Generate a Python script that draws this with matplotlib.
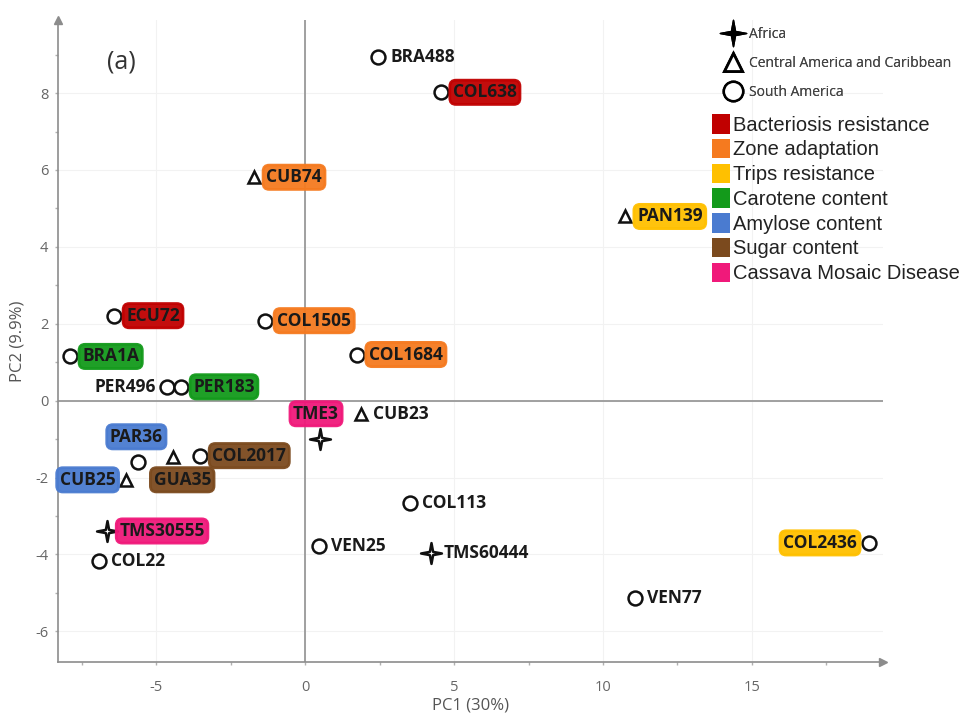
import numpy as np
import matplotlib.pyplot as plt
from matplotlib.path import Path
from matplotlib.lines import Line2D
from matplotlib.patches import Patch

plt.rcParams['axes.unicode_minus'] = False
plt.rcParams['font.family'] = ['Open Sans', 'DejaVu Sans']

# PCA scores
names = ['BRA488', 'COL638', 'CUB74', 'PAN139', 'ECU72', 'COL1505', 'COL1684',
         'BRA1A', 'PER496', 'PER183', 'TME3', 'CUB23', 'PAR36', 'GUA35',
         'COL2017', 'CUB25', 'TMS30555', 'COL22', 'VEN25', 'COL113',
         'TMS60444', 'VEN77', 'COL2436']
pc1 = [2.45, 4.56, -1.71, 10.74, -6.41, -1.34, 1.74, -7.89, -4.63, -4.16,
       0.50, 1.88, -5.60, -4.43, -3.52, -6.00, -6.64, -6.91, 0.47, 3.52,
       4.23, 11.07, 18.93]
pc2 = [8.93, 8.02, 5.81, 4.79, 2.21, 2.08, 1.20, 1.15, 0.36, 0.36,
       -0.99, -0.36, -1.59, -1.46, -1.43, -2.06, -3.39, -4.17, -3.78, -2.66,
       -3.96, -5.13, -3.70]
region = ['SA', 'SA', 'CA', 'CA', 'SA', 'SA', 'SA', 'SA', 'SA', 'SA',
          'AF', 'CA', 'SA', 'CA', 'SA', 'CA', 'AF', 'SA', 'SA', 'SA',
          'AF', 'SA', 'SA']
trait = [None, 'Bacteriosis resistance', 'Zone adaptation', 'Trips resistance',
         'Bacteriosis resistance', 'Zone adaptation', 'Zone adaptation',
         'Carotene content', None, 'Carotene content', 'Cassava Mosaic Disease',
         None, 'Amylose content', 'Sugar content', 'Sugar content',
         'Amylose content', 'Cassava Mosaic Disease', None, None, None, None,
         None, 'Trips resistance']

region_names = {'AF': 'Africa', 'CA': 'Central America and Caribbean',
                'SA': 'South America'}
trait_names = ['Bacteriosis resistance', 'Zone adaptation', 'Trips resistance',
               'Carotene content', 'Amylose content', 'Sugar content',
               'Cassava Mosaic Disease']
trait_colors = ['#C00000', '#F57A1F', '#FFC000', '#139A1B', '#4A7BD0',
                '#7B4A1E', '#F0197A']
color_of = dict(zip(trait_names, trait_colors))

# 4 pointed star marker
ang = np.arange(9) * np.pi / 4 + np.pi / 2
rad = np.where(np.arange(9) % 2 == 0, 1.0, 0.22)
star = Path(np.column_stack([rad * np.cos(ang), rad * np.sin(ang)]), closed=True)
markers = {'AF': star, 'CA': '^', 'SA': 'o'}
msize = {'AF': 15, 'CA': 9, 'SA': 10}

# where each label sits relative to its point (pixels)
place = {'PER496': (-11, 0, 'right'), 'CUB25': (-11, 0, 'right'),
         'COL2436': (-12, 0, 'right'), 'TME3': (-4, 25, 'center'),
         'PAR36': (-2, 25, 'center'), 'GUA35': (9, -23, 'center')}

fig = plt.figure(figsize=(9.74, 7.15), dpi=100)
ax = fig.add_axes([0.0595, 0.074, 0.847, 0.898])

ax.set_xlim(-8.3, 19.4)
ax.set_ylim(-6.8, 9.9)
ax.set_xticks([-5, 0, 5, 10, 15])
ax.set_yticks([-6, -4, -2, 0, 2, 4, 6, 8])
ax.set_xticks(np.arange(-7.5, 19, 2.5), minor=True)
ax.set_yticks(np.arange(-5, 10, 2), minor=True)
ax.grid(True, color='#f2f2f2', lw=0.8)
ax.set_axisbelow(True)
for s in ['top', 'right']:
    ax.spines[s].set_visible(False)
for s in ['left', 'bottom']:
    ax.spines[s].set_color('#8c8c8c')
    ax.spines[s].set_linewidth(1.2)
ax.tick_params(which='both', colors='#b0b0b0', labelcolor='#666666',
               labelsize=10.5, length=2, width=1)
ax.tick_params(axis='x', pad=11)
ax.tick_params(axis='y', pad=5)
ax.plot(1, 0, '>', color='#8c8c8c', ms=6, transform=ax.transAxes, clip_on=False)
ax.plot(0, 1, '^', color='#8c8c8c', ms=6, transform=ax.transAxes, clip_on=False)

ax.axvline(0, color='#999999', lw=1.3, zorder=1)
ax.axhline(0, color='#999999', lw=1.3, zorder=1)

ax.set_xlabel('PC1 (30%)', fontsize=12, color='#555555', labelpad=2)
ax.set_ylabel('PC2 (9.9%)', fontsize=12, color='#555555', labelpad=7)
ax.text(0.06, 0.925, '(a)', transform=ax.transAxes, fontsize=18, color='#333333')

for n, x, y, r, t in zip(names, pc1, pc2, region, trait):
    ax.plot(x, y, marker=markers[r], ms=msize[r], mfc='white', mec='#111111',
            mew=1.8, ls='none', zorder=4, clip_on=False)
    dx, dy, ha = place.get(n, (12, 0, 'left'))
    box = None
    if t is not None:
        c = color_of[t]
        box = dict(boxstyle='round,pad=0.18,rounding_size=0.35', fc=c, ec=c,
                   lw=2, alpha=0.95)
    ax.annotate(n, (x, y), xytext=(dx, dy), textcoords='offset pixels',
                ha=ha, va='center', fontsize=12.5, fontweight='bold',
                color='#1a1a1a', bbox=box, zorder=5, annotation_clip=False)

region_handles = [
    Line2D([], [], marker=star, ms=19, mfc='black', mec='black', ls='none'),
    Line2D([], [], marker='^', ms=13, mfc='white', mec='black', mew=2, ls='none'),
    Line2D([], [], marker='o', ms=14, mfc='white', mec='black', mew=1.8, ls='none')]
leg1 = fig.legend(region_handles, [region_names[k] for k in ['AF', 'CA', 'SA']],
                  loc='upper left', bbox_to_anchor=(0.728, 0.976), frameon=False,
                  fontsize=10, labelcolor='#444444', handletextpad=0.2,
                  labelspacing=1.0, borderpad=0.2)
fig.add_artist(leg1)

trait_handles = [Patch(fc=c, ec='none') for c in trait_colors]
fig.legend(trait_handles, trait_names, loc='upper left',
           bbox_to_anchor=(0.717, 0.86), frameon=False,
           prop={'family': 'Liberation Sans', 'size': 14.5},
           labelcolor='#222222', handlelength=0.85, handleheight=1.1,
           handletextpad=0.15, labelspacing=0.21, borderpad=0.2)

fig.savefig('out.png', dpi=100)
